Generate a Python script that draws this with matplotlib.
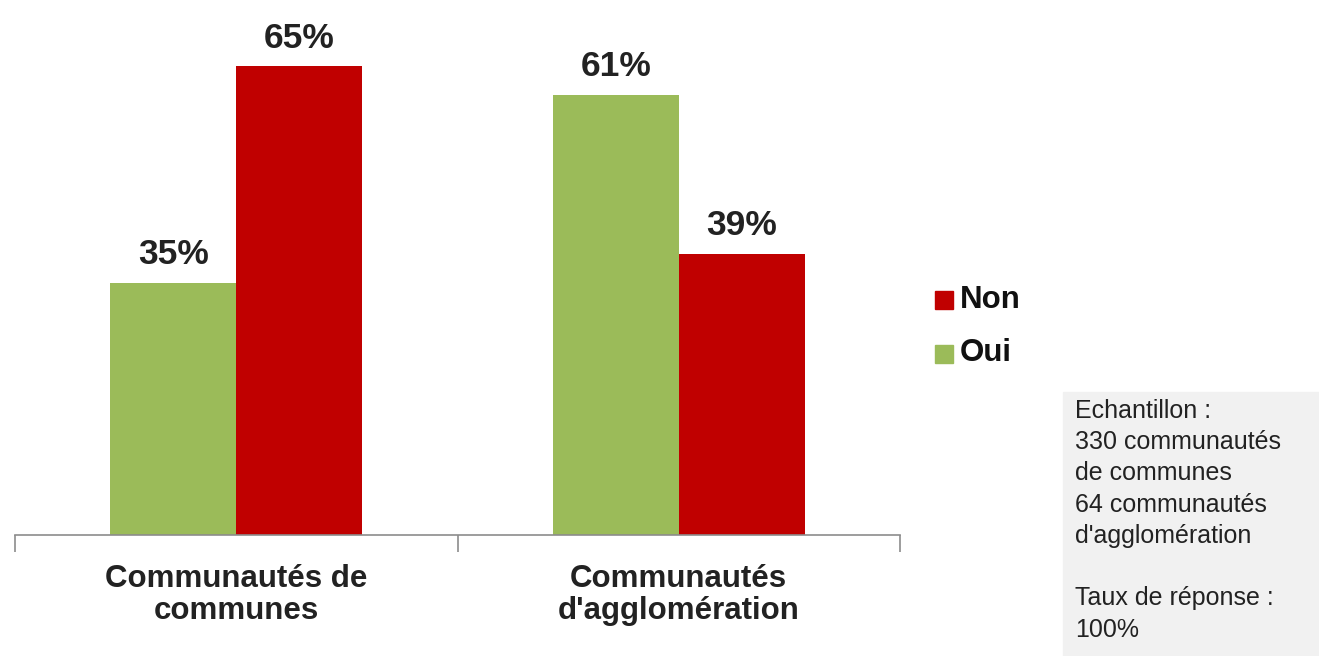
import matplotlib.pyplot as plt
from matplotlib.patches import Rectangle

plt.rcParams['font.family'] = ['Liberation Sans', 'DejaVu Sans']

categories = ['Communautés de\ncommunes', "Communautés\nd'agglomération"]
oui = [35, 61]
non = [65, 39]
sample_text = ("Echantillon :\n330 communautés\nde communes\n64 communautés\n"
               "d'agglomération\n\nTaux de réponse :\n100%")

green = '#9BBB59'
red = '#C00000'

fig = plt.figure(figsize=(13.19, 6.56), dpi=100)
ax = fig.add_axes([15 / 1319, 1 - 535 / 656, 885 / 1319, 505 / 656])

x = range(len(categories))
w = 0.285
for i in x:
    ax.bar(i - w / 2, oui[i], w, color=green)
    ax.bar(i + w / 2, non[i], w, color=red)
    ax.text(i - w / 2, oui[i] + 1.6, f'{oui[i]}%', ha='center', va='bottom',
            fontsize=25.5, fontweight='bold', color='#222222')
    ax.text(i + w / 2, non[i] + 1.6, f'{non[i]}%', ha='center', va='bottom',
            fontsize=25.5, fontweight='bold', color='#222222')

ax.set_xlim(-0.5, 1.5)
ax.set_ylim(0, 70)
ax.set_yticks([])
for s in ['top', 'right', 'left']:
    ax.spines[s].set_visible(False)
ax.spines['bottom'].set_color('#8c8c8c')
ax.spines['bottom'].set_linewidth(1.2)
ax.set_xticks([-0.5, 0.5, 1.5])
ax.set_xticklabels([])
ax.set_xticks([0, 1], minor=True)
ax.set_xticklabels(categories, minor=True, fontsize=22.5, fontweight='bold',
                   color='#222222', linespacing=1.1)
ax.tick_params(axis='x', which='major', length=12, color='#8c8c8c', width=1.2)
ax.tick_params(axis='x', which='minor', length=0, pad=21)

# legend
fig.patches.append(Rectangle((935 / 1319, 1 - 309 / 656), 18 / 1319, 18 / 656,
                             transform=fig.transFigure, color=red))
fig.patches.append(Rectangle((935 / 1319, 1 - 363 / 656), 18 / 1319, 18 / 656,
                             transform=fig.transFigure, color=green))
fig.text(960 / 1319, 1 - 300 / 656, 'Non', fontsize=22.5, fontweight='bold',
         va='center', color='#111111')
fig.text(960 / 1319, 1 - 353 / 656, 'Oui', fontsize=22.5, fontweight='bold',
         va='center', color='#111111')

# sample box
fig.patches.append(Rectangle((1063 / 1319, 0), 256 / 1319, 264 / 656,
                             transform=fig.transFigure, color='#F1F1F1'))
fig.text(1075 / 1319, 1 - 399 / 656, sample_text, fontsize=18, va='top',
         color='#222222', linespacing=1.38)

fig.savefig('out.png', dpi=100)
